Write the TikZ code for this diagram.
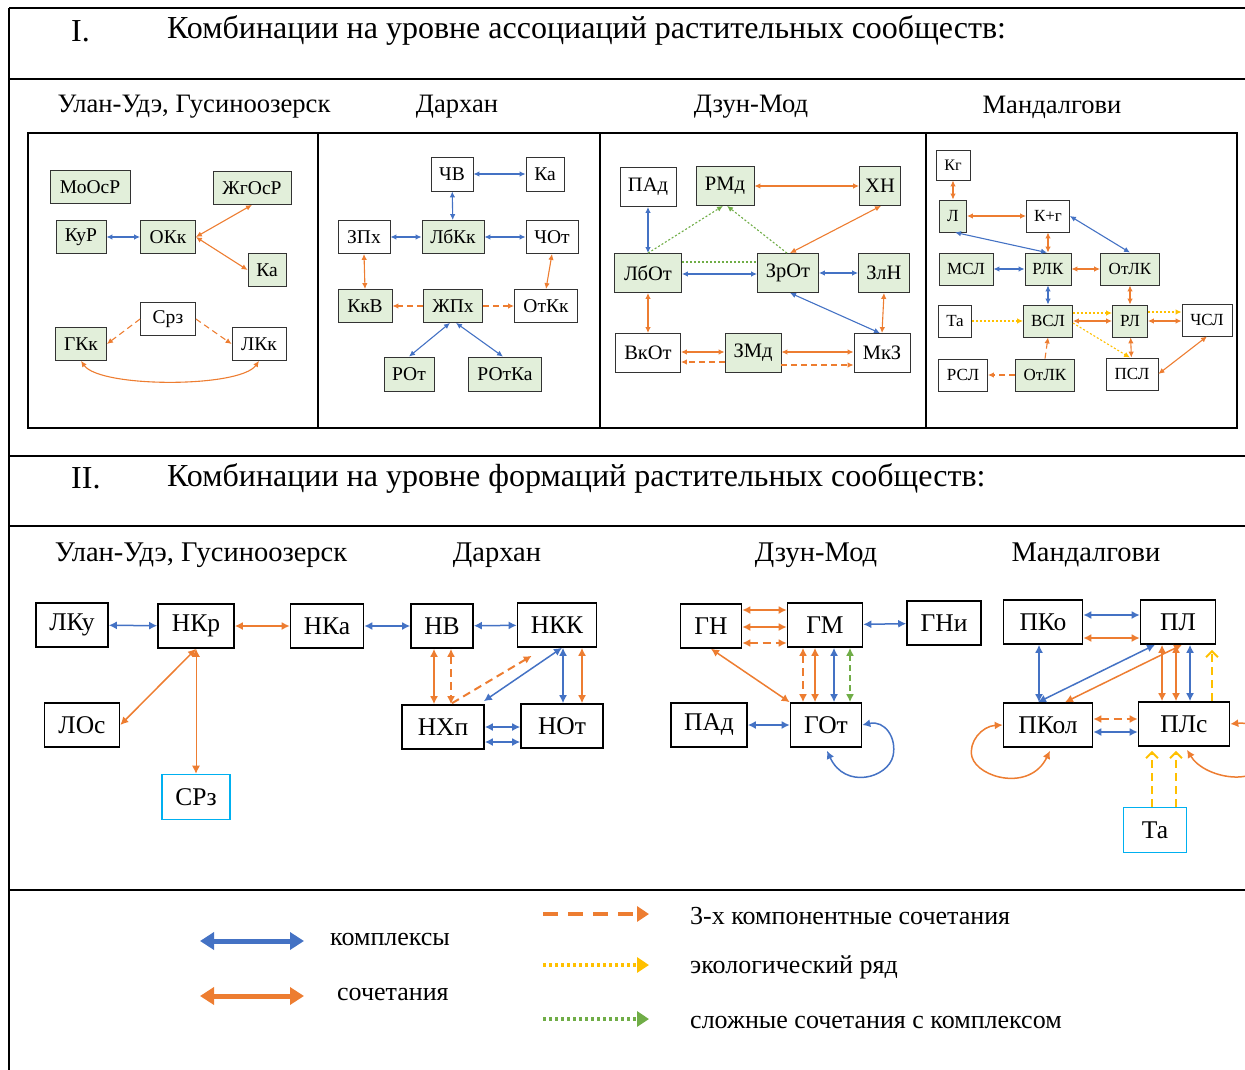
\documentclass[tikz,border=0pt]{standalone}
\usepackage{fontspec}
\setmainfont{Liberation Serif}
\usetikzlibrary{arrows.meta,calc}
\definecolor{cblue}{HTML}{4472C4}
\definecolor{corange}{HTML}{ED7D31}
\definecolor{cgreen}{HTML}{70AD47}
\definecolor{cyellow}{HTML}{FFC000}
\definecolor{lgreen}{HTML}{E2EFDA}
\definecolor{ccyan}{HTML}{00B0F0}
\newcommand\myfs[1]{\fontsize{#1}{#1}\selectfont}
\tikzset{
  frameline/.style={line width=1.8pt, black},
  w1/.style={draw=black!80, fill=white, line width=0.8pt, minimum height=33, inner xsep=1, inner ysep=0, font=\myfs{19.5}},
  g1/.style={w1, fill=lgreen},
  w3/.style={w1, minimum height=39, font=\myfs{20.5}},
  g3/.style={w3, fill=lgreen},
  w4/.style={w1, minimum height=32, font=\myfs{17}},
  g4/.style={w4, fill=lgreen},
  b2/.style={draw=black, line width=1.6pt, minimum height=44, inner xsep=1, inner ysep=0, font=\myfs{25.5}},
  c2/.style={b2, draw=ccyan},
  ab1/.style={cblue, line width=1.1pt, {Latex[length=6pt,width=5.5pt]}-{Latex[length=6pt,width=5.5pt]}},
  ao1/.style={corange, line width=1.1pt, {Latex[length=6pt,width=5.5pt]}-{Latex[length=6pt,width=5.5pt]}},
  aod1/.style={corange, line width=1.1pt, dash pattern=on 6pt off 4pt, -{Latex[length=6pt,width=5.5pt]}},
  agd1/.style={cgreen, line width=1.1pt, dash pattern=on 2pt off 2pt, -{Latex[length=6pt,width=5.5pt]}},
  ayd1/.style={cyellow, line width=1.1pt, dash pattern=on 2pt off 2pt, -{Latex[length=6pt,width=5.5pt]}},
  ab2/.style={cblue, line width=1.5pt, {Latex[length=8pt,width=8pt]}-{Latex[length=8pt,width=8pt]}},
  ao2/.style={corange, line width=1.5pt, {Latex[length=8pt,width=8pt]}-{Latex[length=8pt,width=8pt]}},
  ao2t/.style={corange, line width=1pt, {Latex[length=8pt,width=8pt]}-{Latex[length=8pt,width=8pt]}},
  aod2/.style={corange, line width=2pt, dash pattern=on 8pt off 5pt, {Latex[length=8pt,width=8pt]}-{Latex[length=8pt,width=8pt]}},
  aod2s/.style={corange, line width=2pt, dash pattern=on 8pt off 5pt, -{Latex[length=8pt,width=8pt]}},
  agd2/.style={cgreen, line width=2pt, dash pattern=on 6pt off 4pt, {Latex[length=8pt,width=8pt]}-{Latex[length=8pt,width=8pt]}},
  ayd2/.style={cyellow, line width=2pt, dash pattern=on 8pt off 5pt, -{Straight Barb[length=6pt,width=12pt,line width=2pt]}},
  hd/.style={anchor=west, font=\myfs{32}, inner sep=0},
  lb/.style={font=\myfs{26.6}, inner sep=0},
  lb2/.style={font=\myfs{28.5}, inner sep=0},
  lg/.style={anchor=west, font=\myfs{26}, inner sep=0},
}
\begin{document}
\begin{tikzpicture}[x=1pt,y=-1pt]
\useasboundingbox (0,0) rectangle (1245,1070);
% frame lines
\draw[frameline] (9,8) -- (1250,8);
\draw[frameline] (9,8) -- (9,1075);
\draw[frameline] (9,79) -- (1250,79);
\draw[frameline] (9,456) -- (1250,456);
\draw[frameline] (9,526) -- (1250,526);
\draw[frameline] (9,890) -- (1250,890);
% panels
\draw[line width=1.5pt] (28,133) rectangle (1237,428);
\draw[line width=1.5pt] (318,133) -- (318,428);
\draw[line width=1.5pt] (600,133) -- (600,428);
\draw[line width=1.5pt] (926,133) -- (926,428);
% headings
\node[hd] (h1n) at (71,31) {I.};
\node[hd] (h1t) at (167,31) {Комбинации на уровне ассоциаций растительных сообществ:};
\node[hd] (h2n) at (71,478) {II.};
\node[hd] (h2t) at (167,478) {Комбинации на уровне формаций растительных сообществ:};
\node[lb] (l1a) at (194,107) {Улан-Удэ, Гусиноозерск};
\node[lb] (l1b) at (457,107) {Дархан};
\node[lb] (l1c) at (751,107) {Дзун-Мод};
\node[lb] (l1d) at (1052,107) {Мандалгови};
\node[lb2] (l2a) at (201,555) {Улан-Удэ, Гусиноозерск};
\node[lb2] (l2b) at (497,555) {Дархан};
\node[lb2] (l2c) at (816,555) {Дзун-Мод};
\node[lb2] (l2d) at (1086,555) {Мандалгови};

% ---------- Panel 1
\node[g1, minimum width=80] (moo) at (90,187) {МоОсР};
\node[g1, minimum width=78] (zhg) at (252,188) {ЖгОсР};
\node[g1, minimum width=50] (kur) at (81,237) {КуР};
\node[g1, minimum width=55] (okk) at (168,237) {ОКк};
\node[g1, minimum width=38] (kaa) at (267,270) {Ка};
\node[w1, minimum width=55] (srz) at (168,319) {Срз};
\node[g1, minimum width=51] (gkk) at (81,344) {ГКк};
\node[w1, minimum width=54] (lkk) at (259,344) {ЛКк};
\draw[ab1] (kur) -- (okk);
\draw[ao1] (okk.east) -- (zhg.south);
\draw[ao1] (okk.east) -- (kaa.west);
\draw[aod1] (srz.west) -- (gkk.east);
\draw[aod1] (srz.east) -- (lkk.west);
\draw[ao1] (gkk.south) .. controls (100,388) and (240,388) .. (lkk.south);

% ---------- Panel 2
\node[w1, minimum width=42, minimum height=34] (chv) at (452,174) {ЧВ};
\node[w1, minimum width=38, minimum height=34] (kab) at (545,174) {Ка};
\node[w1, minimum width=52] (zpx) at (364,237) {ЗПх};
\node[g1, minimum width=62] (lbkk) at (453,237) {ЛбКк};
\node[w1, minimum width=52] (chot) at (552,237) {ЧОт};
\node[g1, minimum width=54] (kkv) at (365,306) {КкВ};
\node[g1, minimum width=59] (zhpx) at (453,306) {ЖПх};
\node[w1, minimum width=63] (otkk) at (546,306) {ОтКк};
\node[g1, minimum width=50, minimum height=34] (rot) at (409,374) {РОт};
\node[g1, minimum width=73, minimum height=34] (rotka) at (505,374) {РОтКа};
\draw[ab1] (chv) -- (kab);
\draw[ab1] (chv) -- (lbkk);
\draw[ab1] (zpx) -- (lbkk);
\draw[ab1] (lbkk) -- (chot);
\draw[ao1] (zpx.south) -- (kkv.north);
\draw[ao1] (chot.south) -- (otkk.north);
\draw[aod1] (zhpx) -- (kkv);
\draw[aod1] (zhpx) -- (otkk);
\draw[ab1] ($(zhpx.south)+(-3,0)$) -- (rot.north);
\draw[ab1] ($(zhpx.south)+(3,0)$) -- ($(rotka.north)+(-2,0)$);

% ---------- Panel 3
\node[w3, minimum width=56] (pad) at (648,187) {ПАд};
\node[g3, minimum width=58] (rmd) at (725,186) {РМд};
\node[g3, minimum width=41] (xn) at (880,186) {ХН};
\node[g3, minimum width=67] (lbot) at (648,273) {ЛбОт};
\node[g3, minimum width=61] (zrot) at (788,273) {ЗрОт};
\node[g3, minimum width=51] (zln) at (884,273) {ЗлН};
\node[w3, minimum width=65] (vkot) at (648,353) {ВкОт};
\node[g3, minimum width=56] (zmd) at (753,353) {ЗМд};
\node[w3, minimum width=56] (mkz) at (882,353) {МкЗ};
\draw[ab1] (pad.south) -- (lbot.north);
\draw[ao1] (rmd) -- (xn);
\draw[ao1] ($(zrot.north)+(2,0)$) -- ($(xn.south)+(1,0)$);
\draw[agd1] (lbot.north) -- ($(rmd.south)+(-2,0)$);
\draw[agd1] ($(zrot.north)+(-1,0)$) -- ($(rmd.south)+(2,0)$);
\draw[cgreen, line width=1.1pt, dash pattern=on 2pt off 2pt] ($(lbot.east)+(0,-11)$) -- ($(zrot.west)+(0,-11)$);
\draw[ab1] ($(lbot.east)+(0,1)$) -- ($(zrot.west)+(0,1)$);
\draw[ab1] (zrot) -- (zln);
\draw[ab1] ($(zrot.south)+(2,0)$) -- ($(mkz.north)+(-2,0)$);
\draw[ao1] (zln.south) -- (mkz.north);
\draw[ao1] (lbot.south) -- (vkot.north);
\draw[ao1] ($(vkot.east)+(0,-1)$) -- ($(zmd.west)+(0,-1)$);
\draw[aod1] ($(zmd.west)+(0,9)$) -- ($(vkot.east)+(0,9)$);
\draw[ao1] ($(zmd.east)+(0,-1)$) -- ($(mkz.west)+(0,-1)$);
\draw[aod1] ($(zmd.east)+(0,12)$) -- ($(mkz.west)+(0,12)$);

% ---------- Panel 4
\node[w4, minimum width=34, minimum height=30, font=\myfs{16}] (kg) at (953,165) {Кг};
\node[g4, minimum width=27] (ll) at (953,216) {Л};
\node[w4, minimum width=43] (kpg) at (1048,216) {К+г};
\node[g4, minimum width=54] (msl) at (966,269) {МСЛ};
\node[g4, minimum width=46] (rlk) at (1048,269) {РЛК};
\node[g4, minimum width=59] (otlk) at (1130,269) {ОтЛК};
\node[w4, minimum width=33] (taa) at (955,321) {Та};
\node[g4, minimum width=49] (vsl) at (1048,321) {ВСЛ};
\node[g4, minimum width=35] (rl) at (1130,321) {РЛ};
\node[w4, minimum width=50] (chsl) at (1207,320) {ЧСЛ};
\node[w4, minimum width=49] (rsl) at (963,375) {РСЛ};
\node[g4, minimum width=59] (otlkb) at (1045,375) {ОтЛК};
\node[w4, minimum width=52] (psl) at (1132,374) {ПСЛ};
\draw[ao1] (kg) -- (ll);
\draw[ao1] (ll) -- (kpg);
\draw[ab1] ($(ll.south)+(2,0)$) -- ($(rlk.north)+(-1,0)$);
\draw[ao1] (kpg) -- (rlk);
\draw[ab1] (kpg.east) -- (otlk.north);
\draw[ab1] (msl) -- (rlk);
\draw[ao1] (rlk) -- (otlk);
\draw[ab1] (rlk) -- (vsl);
\draw[ao1] (otlk) -- (rl);
\draw[ayd1] (taa) -- (vsl);
\draw[ayd1] ($(vsl.east)+(0,-8)$) -- ($(rl.west)+(0,-8)$);
\draw[ao1] (vsl) -- (rl);
\draw[ayd1] ($(rl.east)+(0,-9)$) -- ($(chsl.west)+(0,-8)$);
\draw[ao1] (rl.east) -- ($(chsl.west)+(0,1)$);
\draw[ayd1] ($(vsl.east)+(0,2)$) -- ($(psl.north)+(-2,0)$);
\draw[ao1] (rl) -- (psl);
\draw[ao1] (chsl.south) -- (psl.east);
\draw[aod1] (otlkb.north) -- (vsl.south);
\draw[aod1] (otlkb) -- (rsl);

% ---------- Section II, Ulan-Ude
\node[b2, minimum width=72] (lku) at (72,625) {ЛКу};
\node[b2, minimum width=76] (nkr) at (196,626) {НКр};
\node[b2, minimum width=73] (nka) at (327,626) {НКа};
\node[b2, minimum width=75] (los) at (82,725) {ЛОс};
\node[c2, minimum width=68, minimum height=45] (srzb) at (196,797) {СРз};
\draw[ab2] (lku) -- (nkr);
\draw[ao2] (nkr) -- (nka);
\draw[ao2] (nkr.south) -- (los.east);
\draw[ao2t] (nkr.south) -- (srzb.north);

% Darkhan
\node[b2, minimum width=62] (nv) at (442,626) {НВ};
\node[b2, minimum width=79] (nkk) at (557,625) {НКК};
\node[b2, minimum width=82] (nxp) at (443,727) {НХп};
\node[b2, minimum width=82] (nott) at (562,726) {НОт};
\draw[ab2] (nka) -- (nv);
\draw[ab2] (nv) -- (nkk);
\draw[ao2] ($(nv.south)+(-8,0)$) -- ($(nxp.north)+(-9,0)$);
\draw[aod2] ($(nv.south)+(9,0)$) -- ($(nxp.north)+(8,0)$);
\draw[aod2s] ($(nxp.north)+(9,-1)$) -- ($(nkk.south west)+(15,8)$);
\draw[ab2] ($(nxp.north east)+(-1,-3)$) -- ($(nkk.south)+(5,0)$);
\draw[ab2] ($(nkk.south)+(6,0)$) -- ($(nott.north)+(1,0)$);
\draw[ao2] ($(nkk.south)+(25,0)$) -- ($(nott.north)+(20,0)$);
\draw[ab2] (nxp.east) -- ($(nott.west)+(0,1)$);
\draw[ab2] ($(nxp.east)+(0,15)$) -- ($(nott.west)+(0,16)$);

% Dzun-Mod
\node[b2, minimum width=61] (gn) at (711,626) {ГН};
\node[b2, minimum width=75] (gm) at (825,625) {ГМ};
\node[b2, minimum width=74] (gni) at (944,623) {ГНи};
\node[b2, minimum width=76] (padb) at (709,725) {ПАд};
\node[b2, minimum width=71] (got) at (826,725) {ГОт};
\draw[ao2] ($(gn.east)+(0,-16)$) -- ($(gm.west)+(0,-15)$);
\draw[ao2] ($(gn.east)+(0,1)$) -- ($(gm.west)+(0,2)$);
\draw[aod2] ($(gn.east)+(0,17)$) -- ($(gm.west)+(0,18)$);
\draw[ao2] (gn.south) -- (got.north west);
\draw[ab2] (gm) -- (gni);
\draw[aod2] ($(gm.south)+(-22,0)$) -- ($(got.north)+(-23,0)$);
\draw[ao2] ($(gm.south)+(-10,0)$) -- ($(got.north)+(-11,0)$);
\draw[ab2] ($(gm.south)+(9,0)$) -- ($(got.north)+(8,0)$);
\draw[agd2] ($(gm.south)+(25,0)$) -- ($(got.north)+(24,0)$);
\draw[ab2] (padb) -- (got);
\draw[ab2] (got.east) .. controls (885,720) and (897,738) .. (893,756) .. controls (888,778) and (845,790) .. ($(got.south)+(1,3)$);

% Mandalgovi
\node[b2, minimum width=79] (pko) at (1043,622) {ПКо};
\node[b2, minimum width=75] (pl) at (1178,622) {ПЛ};
\node[b2, minimum width=89] (pkol) at (1048,725) {ПКол};
\node[b2, minimum width=91] (pls) at (1184,724) {ПЛс};
\node[c2, minimum width=63, minimum height=45] (tab) at (1155,830) {Та};
\draw[ab2] ($(pko.east)+(0,-7)$) -- ($(pl.west)+(0,-7)$);
\draw[ao2] ($(pko.east)+(0,16)$) -- ($(pl.west)+(0,16)$);
\draw[ab2] ($(pko.south)+(-4,0)$) -- ($(pkol.north)+(-9,0)$);
\draw[ab2] ($(pkol.north)+(-10,0)$) -- ($(pl.south)+(-23,0)$);
\draw[ao2] ($(pkol.north)+(17,0)$) -- ($(pl.south)+(4,0)$);
\draw[ao2] ($(pl.south)+(-16,0)$) -- ($(pls.north)+(-22,0)$);
\draw[ao2] ($(pl.south)+(-2,0)$) -- ($(pls.north)+(-8,0)$);
\draw[ab2] ($(pl.south)+(12,0)$) -- ($(pls.north)+(6,0)$);
\draw[ayd2] ($(pls.north)+(28,0)$) -- ($(pl.south)+(34,5)$);
\draw[aod2] ($(pkol.east)+(0,-6)$) -- ($(pls.west)+(0,-5)$);
\draw[ab2] ($(pkol.east)+(0,7)$) -- ($(pls.west)+(0,8)$);
\draw[ao2] (pkol.west) .. controls (982,726) and (968,742) .. (972,757) .. controls (978,778) and (1030,792) .. ($(pkol.south)+(2,3)$);
\draw[ao2] ($(pls.south)+(3,3)$) .. controls (1205,780) and (1268,790) .. (1268,750) .. controls (1268,728) and (1250,722) .. (pls.east);
\draw[ayd2] ($(tab.north)+(-3,0)$) -- ($(pls.south)+(-32,4)$);
\draw[ayd2] ($(tab.north)+(21,0)$) -- ($(pls.south)+(-8,4)$);

% ---------- Legend
\coordinate (lba) at (200,941);
\coordinate (lbb) at (304,941);
\coordinate (loa) at (200,996);
\coordinate (lob) at (304,996);
\coordinate (lda) at (543,914);
\coordinate (ldb) at (649,914);
\coordinate (lya) at (543,965);
\coordinate (lyb) at (649,965);
\coordinate (lga) at (543,1019);
\coordinate (lgb) at (649,1019);
\draw[cblue, line width=5pt, {Triangle[length=14pt,width=17pt]}-{Triangle[length=14pt,width=17pt]}] (lba) -- (lbb);
\draw[corange, line width=5pt, {Triangle[length=14pt,width=17pt]}-{Triangle[length=14pt,width=17pt]}] (loa) -- (lob);
\draw[corange, line width=4pt, dash pattern=on 15pt off 10pt, -{Triangle[length=12pt,width=15pt]}] (lda) -- (ldb);
\draw[cyellow, line width=4pt, dash pattern=on 3pt off 3pt, -{Triangle[length=12pt,width=15pt]}] (lya) -- (lyb);
\draw[cgreen, line width=4pt, dash pattern=on 3pt off 3pt, -{Triangle[length=12pt,width=15pt]}] (lga) -- (lgb);
\node[lg] (t1) at (330,939) {комплексы};
\node[lg] (t2) at (337,994) {сочетания};
\node[lg] (t3) at (690,916) {3-х компонентные сочетания};
\node[lg] (t4) at (690,967) {экологический ряд};
\node[lg] (t5) at (690,1022) {сложные сочетания с комплексом};
\end{tikzpicture}
\end{document}
